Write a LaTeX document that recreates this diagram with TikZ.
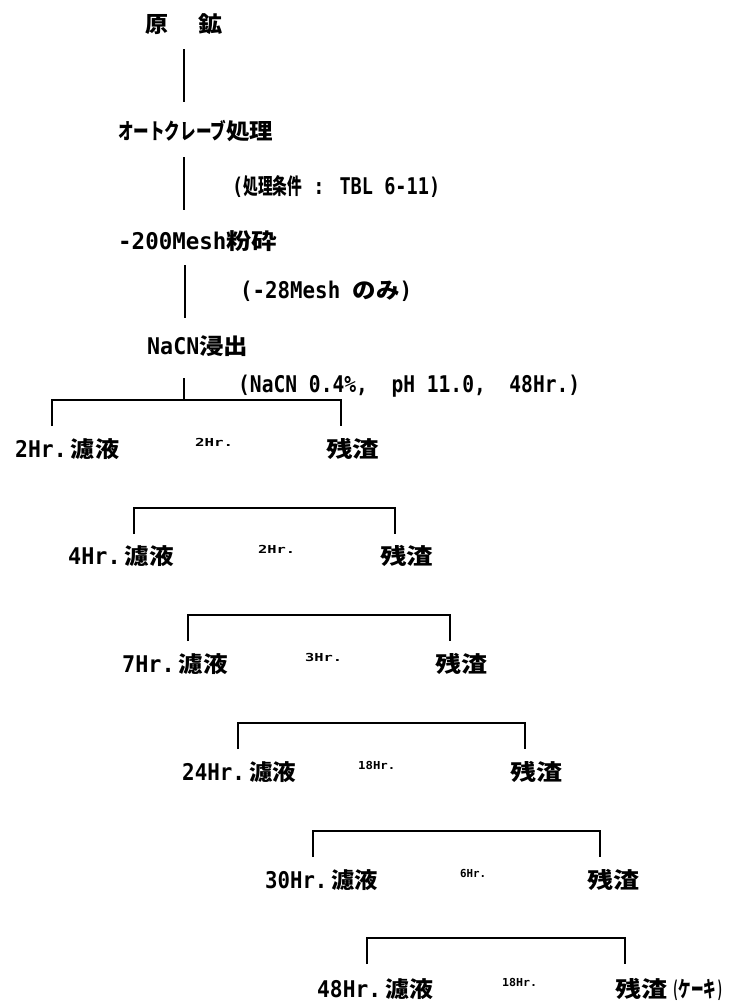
\documentclass[tikz,border=0pt]{standalone}
\usepackage{fontspec}
\usepackage{graphicx}
\setmainfont{DejaVu Sans Mono}[FakeStretch=0.85]
\newfontfamily\jpf{Noto Sans CJK JP}[Scale=0.96]
\newcommand\J[1]{{\jpf #1}}
\newcommand\fit[2]{\resizebox{#1bp}{\height}{#2}}
\begin{document}
\begin{tikzpicture}[x=1bp,y=-1bp,
  txt/.style={inner sep=0pt, anchor=west, font=\fontsize{23bp}{26bp}\selectfont\bfseries},
  small/.style={inner sep=0pt, anchor=west, font=\fontsize{11bp}{12bp}\selectfont\bfseries},
  stem/.style={line width=2bp},
  brk/.style={line width=1.5bp}]
\fill[white] (0,0) rectangle (729,1008);
\useasboundingbox (0,0) rectangle (729,1008);

% --- upper chain ---
\node[txt] (ore) at (145,24) {\fit{23}{\J{原}}\hspace{30bp}\fit{24}{\J{鉱}}};
\node[txt] (auto) at (118,131) {\fit{108}{\J{オートクレーブ}}\fit{47}{\J{処理}}};
\node[txt] (cond) at (232,187) {\fit{208}{(\fit{62}{\J{処理条件}} : TBL 6-11)}};
\node[txt] (mill) at (118,241) {\fit{159}{-200Mesh\J{粉砕}}};
\node[txt] (mesh) at (240,291) {\fit{172}{(-28Mesh \J{のみ})}};
\node[txt] (leach) at (147,346) {\fit{101}{NaCN\J{浸出}}};
\node[txt] (lcond) at (238,386) {\fit{342}{(NaCN 0.4\%,\ \ pH 11.0,\ \ 48Hr.)}};

\coordinate (s1t) at (184,49);  \coordinate (s1b) at (184,102);
\coordinate (s2t) at (184,157); \coordinate (s2b) at (184,210);
\coordinate (s3t) at (185,265); \coordinate (s3b) at (185,318);
\coordinate (s4t) at (184,378); \coordinate (s4b) at (184,400);
\draw[stem] (s1t) -- (s1b);
\draw[stem] (s2t) -- (s2b);
\draw[stem] (s3t) -- (s3b);
\draw[stem] (s4t) -- (s4b);

% --- brackets ---
\foreach \i/\yt/\xl/\xr in {1/400/52/341, 2/508/134/395, 3/615/188/450, 4/723/238/525, 5/831/313/600, 6/938/367/625}{
  \coordinate (bL\i) at (\xl,\yt);
  \coordinate (bR\i) at (\xr,\yt);
  \coordinate (fL\i) at (\xl,\yt+26);
  \coordinate (fR\i) at (\xr,\yt+26);
  \draw[brk] (fL\i) -- (bL\i) -- (bR\i) -- (fR\i);
}

% --- rows ---
\node[txt] (f1) at (15,449)  {\fit{104}{2Hr.\,\J{濾液}}};
\node[small] (t1) at (195,442) {\fit{38}{2Hr.}};
\node[txt] (r1) at (326,449) {\fit{53}{\J{残渣}}};

\node[txt] (f2) at (68,556)  {\fit{106}{4Hr.\,\J{濾液}}};
\node[small] (t2) at (258,549) {\fit{37}{2Hr.}};
\node[txt] (r2) at (380,556) {\fit{53}{\J{残渣}}};

\node[txt] (f3) at (122,664) {\fit{106}{7Hr.\,\J{濾液}}};
\node[small] (t3) at (305,657) {\fit{37}{3Hr.}};
\node[txt] (r3) at (435,664) {\fit{52}{\J{残渣}}};

\node[txt] (f4) at (182,772) {\fit{114}{24Hr.\,\J{濾液}}};
\node[small] (t4) at (358,765) {\fit{37}{18Hr.}};
\node[txt] (r4) at (510,772) {\fit{52}{\J{残渣}}};

\node[txt] (f5) at (265,880) {\fit{113}{30Hr.\,\J{濾液}}};
\node[small] (t5) at (460,873) {\fit{26}{6Hr.}};
\node[txt] (r5) at (587,880) {\fit{52}{\J{残渣}}};

\node[txt] (f6) at (317,989) {\fit{116}{48Hr.\,\J{濾液}}};
\node[small] (t6) at (502,982) {\fit{35}{18Hr.}};
\node[txt] (r6) at (615,989) {\fit{52}{\J{残渣}}\hspace{5bp}\fit{51}{(\J{ケーキ})}};
\end{tikzpicture}
\end{document}
